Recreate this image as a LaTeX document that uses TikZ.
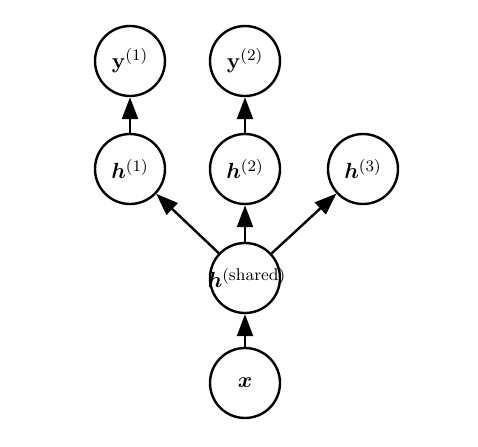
\documentclass[tikz,border=0pt]{standalone}
\usepackage{amsmath,bm}
\DeclareMathSizes{10.5}{10.5}{8.5}{6}
\usetikzlibrary{arrows.meta}
\begin{document}
\begin{tikzpicture}[x=0.5pt,y=-0.5pt,
  unit/.style={circle,draw,line width=1.2pt,inner sep=0pt,minimum size=35pt,font=\fontsize{10.5}{12}\selectfont},
  arr/.style={line width=1.2pt,-{Triangle[length=11pt,width=8pt]}}]
\useasboundingbox (0,0) rectangle (478,446);
\node[unit] (y1) at (130,61) {$\mathbf{y}^{(1)}$};
\node[unit] (y2) at (245,61) {$\mathbf{y}^{(2)}$};
\node[unit] (h1) at (130,169) {$\bm{h}^{(1)}$};
\node[unit] (h2) at (245,169) {$\bm{h}^{(2)}$};
\node[unit] (h3) at (363,169) {$\bm{h}^{(3)}$};
\node[unit] (hs) at (245,278) {\makebox[0pt][c]{\hspace{2pt}$\bm{h}^{(\text{shared})}$}};
\node[unit] (x) at (245,383) {$\bm{x}$};
\draw[arr] (h1) -- (y1);
\draw[arr] (h2) -- (y2);
\draw[arr] (hs) -- (h1);
\draw[arr] (hs) -- (h2);
\draw[arr] (hs) -- (h3);
\draw[arr] (x) -- (hs);
\end{tikzpicture}
\end{document}
